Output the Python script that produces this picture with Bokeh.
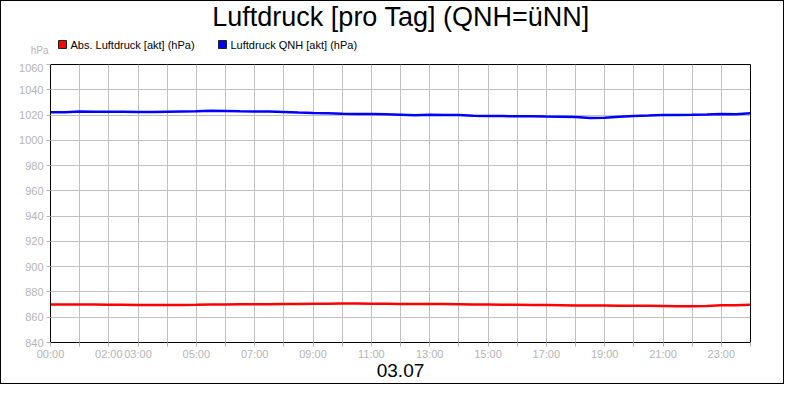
from bokeh.plotting import figure
from bokeh.layouts import column
from bokeh.models import FixedTicker, Range1d
from bokeh.core.properties import value
from bokeh.embed import file_html
from bokeh.resources import INLINE

# ---- data ----
times = ["00:00", "00:30", "01:00", "01:30", "02:00", "02:30", "03:00", "03:30",
         "04:00", "04:30", "05:00", "05:30", "06:00", "06:30", "07:00", "07:30",
         "08:00", "08:30", "09:00", "09:30", "10:00", "10:30", "11:00", "11:30",
         "12:00", "12:30", "13:00", "13:30", "14:00", "14:30", "15:00", "15:30",
         "16:00", "16:30", "17:00", "17:30", "18:00", "18:30", "19:00", "19:30",
         "20:00", "20:30", "21:00", "21:30", "22:00", "22:30", "23:00", "23:30",
         "24:00"]
qnh = [1022.2, 1022.3, 1022.8, 1022.7, 1022.6, 1022.7, 1022.5, 1022.4,
       1022.6, 1022.8, 1023.0, 1023.4, 1023.2, 1023.0, 1022.9, 1022.8,
       1022.5, 1022.0, 1021.6, 1021.5, 1021.0, 1020.8, 1020.9, 1020.6,
       1020.3, 1019.8, 1020.2, 1020.1, 1020.0, 1019.5, 1019.3, 1019.2,
       1019.0, 1019.1, 1018.8, 1018.7, 1018.5, 1017.6, 1017.9, 1018.6,
       1019.3, 1019.6, 1020.0, 1020.1, 1020.2, 1020.4, 1020.8, 1020.7,
       1021.5]
abs_p = [870.1, 870.0, 870.0, 870.0, 869.9, 869.8, 869.7, 869.6,
         869.6, 869.7, 869.8, 870.0, 870.1, 870.2, 870.3, 870.3,
         870.4, 870.5, 870.6, 870.7, 870.8, 870.8, 870.7, 870.6,
         870.5, 870.5, 870.4, 870.4, 870.3, 870.1, 870.0, 869.9,
         869.8, 869.7, 869.6, 869.5, 869.3, 869.2, 869.2, 869.1,
         869.1, 869.0, 868.9, 868.6, 868.6, 868.8, 869.4, 869.5,
         869.8]
hour_ticks = list(range(0, 25))
hour_labels = {0: "00:00", 2: "02:00", 3: "03:00", 5: "05:00", 7: "07:00",
               9: "09:00", 11: "11:00", 13: "13:00", 15: "15:00", 17: "17:00",
               19: "19:00", 21: "21:00", 23: "23:00"}
y_ticks = [840, 860, 880, 900, 920, 940, 960, 980, 1000, 1020, 1040, 1060]
title_text = "Luftdruck [pro Tag] (QNH=üNN]"
date_text = "03.07"
unit_text = "hPa"
series_names = ["Abs. Luftdruck [akt] (hPa)", "Luftdruck QNH [akt] (hPa)"]
series_colors = ["#ff0000", "#0000ff"]

hours = [int(t[:2]) + int(t[3:]) / 60 for t in times]

# ---- layout (pixels) ----
W = 782                      # inner width (784 minus 1px border each side)
HEAD_H = 62
L, R, T, FH, B = 49, 33, 1, 278, 41
MAIN_H = T + FH + B
FONT = "Liberation Sans"
GREY = "#b4b4b4"

# header: title, legend, unit (coordinates follow the page pixels; frame aligned with chart)
head = figure(width=W, height=HEAD_H, output_backend="svg", toolbar_location=None,
              x_range=Range1d(50, 750), y_range=Range1d(HEAD_H + 1, 1),
              min_border_left=L, min_border_right=R, min_border_top=0, min_border_bottom=0,
              outline_line_color=None)
head.xaxis.visible = False
head.grid.visible = False
head.background_fill_color = "white"
head.border_fill_color = "white"
hy = head.yaxis[0]
hy.ticker = FixedTicker(ticks=[49.5])
hy.major_label_overrides = {49.5: unit_text}
hy.axis_line_color = None
hy.major_tick_line_color = None
hy.minor_tick_line_color = None
hy.major_tick_in = 0
hy.major_tick_out = 0
hy.major_label_standoff = 2
hy.major_label_text_color = GREY
hy.major_label_text_font = FONT
hy.major_label_text_font_size = "10px"

head.text(x=[400.5], y=[16], text=[title_text], text_align="center",
          text_baseline="middle", text_font=value(FONT), text_font_size="27px",
          text_color="black")
legend_x = [62, 222]
head.scatter(x=legend_x, y=[44, 44], marker="square", size=8,
             fill_color=series_colors, line_color="#202020", line_width=1)
head.text(x=[lx + 8 for lx in legend_x], y=[44.5, 44.5], text=series_names,
          text_align="left", text_baseline="middle", text_font=value(FONT),
          text_font_size="11px", text_color="black")

# main chart
p = figure(width=W, height=MAIN_H, output_backend="svg", toolbar_location=None,
           x_range=Range1d(0, 24), y_range=Range1d(840, 1060),
           min_border_left=L, min_border_right=R, min_border_top=T, min_border_bottom=B)
p.outline_line_color = "black"
p.outline_line_width = 1
p.outline_line_alpha = 1
p.background_fill_color = "white"
p.border_fill_color = "white"

for ax in (p.xaxis[0], p.yaxis[0]):
    ax.axis_line_color = None
    ax.major_tick_in = 0
    ax.major_tick_out = 4
    ax.major_tick_line_color = GREY
    ax.minor_tick_line_color = None
    ax.major_label_text_color = GREY
    ax.major_label_text_font = FONT
    ax.major_label_text_font_size = "11px"

xa = p.xaxis[0]
xa.ticker = FixedTicker(ticks=hour_ticks)
xa.major_label_overrides = {h: hour_labels.get(h, "") for h in hour_ticks}
xa.major_label_standoff = 1
xa.axis_label = date_text
xa.axis_label_standoff = 1
xa.axis_label_text_font = FONT
xa.axis_label_text_font_size = "19px"
xa.axis_label_text_font_style = "normal"
xa.axis_label_text_color = "black"
p.yaxis[0].ticker = FixedTicker(ticks=y_ticks)
p.yaxis[0].major_label_standoff = 3

p.xgrid.ticker = FixedTicker(ticks=hour_ticks)
p.ygrid.ticker = FixedTicker(ticks=y_ticks)
for g in (p.xgrid[0], p.ygrid[0]):
    g.grid_line_color = "#c0c0c0"
    g.grid_line_width = 1
    g.grid_line_alpha = 1

p.line(hours, abs_p, line_color=series_colors[0], line_width=2.5)
p.line(hours, qnh, line_color=series_colors[1], line_width=2.5)

layout = column(head, p, spacing=0)
layout.styles = {"border": "1px solid black"}

open("out.html", "w").write(file_html(layout, INLINE))
